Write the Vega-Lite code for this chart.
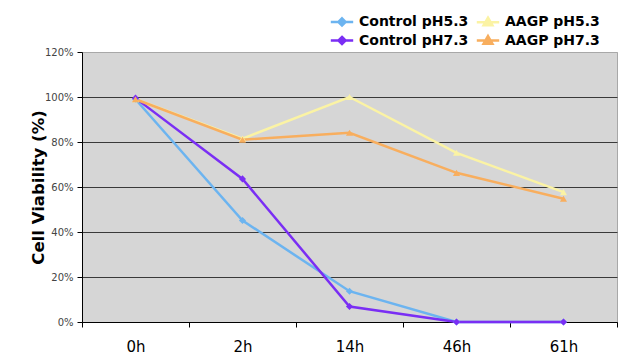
{
  "$schema": "https://vega.github.io/schema/vega-lite/v6.json",
  "autosize": {"type": "none"},
  "width": 535,
  "height": 270,
  "padding": {"left": 82, "top": 52, "right": 7, "bottom": 35},
  "background": "white",
  "config": {
    "view": {"fill": "#d6d6d6", "stroke": "#a8a8a8", "strokeWidth": 1},
    "font": "DejaVu Sans"
  },
  "data": {
    "values": [
      {"time": "0h", "series": "Control pH5.3", "kind": "Control", "value": 0.99},
      {"time": "2h", "series": "Control pH5.3", "kind": "Control", "value": 0.451},
      {"time": "14h", "series": "Control pH5.3", "kind": "Control", "value": 0.137},
      {"time": "46h", "series": "Control pH5.3", "kind": "Control", "value": 0.0},
      {"time": "61h", "series": "Control pH5.3", "kind": "Control", "value": 0.0},
      {"time": "0h", "series": "AAGP pH5.3", "kind": "AAGP", "value": 0.99},
      {"time": "2h", "series": "AAGP pH5.3", "kind": "AAGP", "value": 0.815},
      {"time": "14h", "series": "AAGP pH5.3", "kind": "AAGP", "value": 1.0},
      {"time": "46h", "series": "AAGP pH5.3", "kind": "AAGP", "value": 0.752},
      {"time": "61h", "series": "AAGP pH5.3", "kind": "AAGP", "value": 0.577},
      {"time": "0h", "series": "Control pH7.3", "kind": "Control", "value": 0.995},
      {"time": "2h", "series": "Control pH7.3", "kind": "Control", "value": 0.636},
      {"time": "14h", "series": "Control pH7.3", "kind": "Control", "value": 0.069},
      {"time": "46h", "series": "Control pH7.3", "kind": "Control", "value": 0.0},
      {"time": "61h", "series": "Control pH7.3", "kind": "Control", "value": 0.0},
      {"time": "0h", "series": "AAGP pH7.3", "kind": "AAGP", "value": 0.99},
      {"time": "2h", "series": "AAGP pH7.3", "kind": "AAGP", "value": 0.81},
      {"time": "14h", "series": "AAGP pH7.3", "kind": "AAGP", "value": 0.841},
      {"time": "46h", "series": "AAGP pH7.3", "kind": "AAGP", "value": 0.663},
      {"time": "61h", "series": "AAGP pH7.3", "kind": "AAGP", "value": 0.548}
    ]
  },
  "encoding": {
    "x": {
      "field": "time",
      "type": "ordinal",
      "sort": ["0h", "2h", "14h", "46h", "61h"],
      "scale": {"type": "band", "paddingInner": 0, "paddingOuter": 0},
      "axis": {
        "title": null,
        "labelAngle": 0,
        "labelFontSize": 15,
        "labelColor": "#000000",
        "labelPadding": 12,
        "tickBand": "extent",
        "tickSize": 5,
        "tickColor": "#000000",
        "domainColor": "#000000",
        "domainWidth": 1,
        "grid": false
      }
    },
    "y": {
      "field": "value",
      "type": "quantitative",
      "scale": {"domain": [0, 1.2], "nice": false, "zero": true},
      "axis": {
        "title": "Cell Viability (%)",
        "titleFontSize": 16.5,
        "titleFontWeight": "bold",
        "titleColor": "#000000",
        "titleX": -44,
        "titleY": 135,
        "titleAngle": -90,
        "titleAlign": "center",
        "titleBaseline": "middle",
        "values": [0, 0.2, 0.4, 0.6, 0.8, 1.0, 1.2],
        "format": ".0%",
        "labelFontSize": 10,
        "labelColor": "#444444",
        "labelPadding": 4,
        "tickSize": 5,
        "tickColor": "#000000",
        "domainColor": "#000000",
        "grid": true,
        "gridColor": {"condition": {"test": "datum.value >= 1.2", "value": "#a8a8a8"}, "value": "#3a3a3a"},
        "gridWidth": 1
      }
    },
    "color": {
      "field": "series",
      "type": "nominal",
      "scale": {
        "domain": ["Control pH5.3", "Control pH7.3", "AAGP pH5.3", "AAGP pH7.3"],
        "range": ["#6cb4f0", "#7a2ef4", "#fbf3a4", "#f8ae5e"]
      },
      "legend": {
        "orient": "none",
        "legendX": 250.5,
        "legendY": -40,
        "columns": 2,
        "title": null,
        "padding": 0,
        "symbolSize": 256,
        "symbolType": "M-1.4,0H1.4M0,-0.45L0.45,0L0,0.45L-0.45,0Z",
        "symbolStrokeWidth": 2.5,
        "labelFontSize": 14,
        "labelFontWeight": "bold",
        "labelColor": "#000000",
        "labelOffset": 7.5,
        "columnPadding": 3,
        "rowPadding": -1,
        "encode": {
          "symbols": {
            "update": {
              "shape": {"signal": "test(/AAGP/, datum.value) ? 'M-1.4,0H1.4M0,-0.55L0.55,0.4L-0.55,0.4Z' : 'M-1.4,0H1.4M0,-0.45L0.45,0L0,0.45L-0.45,0Z'"},
              "fill": {"scale": "color", "field": "value"},
              "stroke": {"scale": "color", "field": "value"},
              "strokeWidth": {"value": 2.5},
              "opacity": {"value": 1}
            }
          }
        }
      }
    }
  },
  "layer": [
    {
      "mark": {"type": "line", "strokeWidth": 2.5},
      "encoding": {}
    },
    {
      "mark": {"type": "point", "filled": true, "opacity": 1},
      "encoding": {
        "shape": {
          "field": "kind",
          "type": "nominal",
          "scale": {
            "domain": ["Control", "AAGP"],
            "range": ["diamond", "triangle-up"]
          },
          "legend": null
        },
        "size": {"value": 50}
      }
    }
  ]
}
